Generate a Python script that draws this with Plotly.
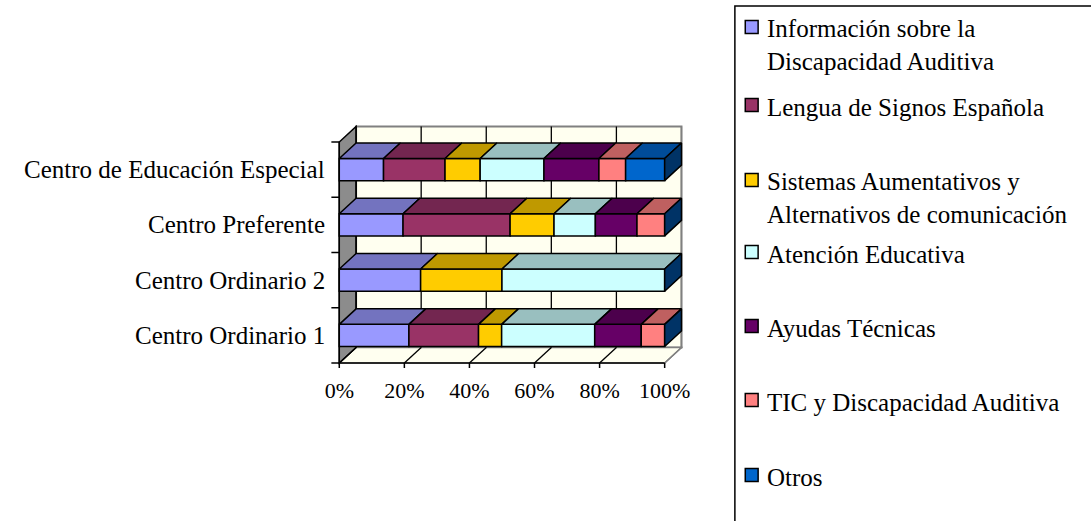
import numpy as np
import plotly.graph_objects as go

# ---------------- data ----------------
categories = ["Centro Ordinario 1", "Centro Ordinario 2", "Centro Preferente",
              "Centro de Educación Especial"]
series_names = ["Información sobre la<br>Discapacidad Auditiva",
                "Lengua de Signos Española",
                "Sistemas Aumentativos y<br>Alternativos de comunicación",
                "Atención Educativa",
                "Ayudas Técnicas",
                "TIC y Discapacidad Auditiva",
                "Otros"]
informacion = [21.4, 25.0, 19.6, 13.6]
lengua = [21.4, 0.0, 32.9, 18.9]
sistemas = [7.1, 25.0, 13.5, 10.8]
atencion = [28.6, 50.0, 12.7, 19.6]
ayudas = [14.3, 0.0, 12.8, 16.9]
tic = [7.2, 0.0, 8.5, 8.2]
otros = [0.0, 0.0, 0.0, 12.0]
tick_values = [0, 20, 40, 60, 80, 100]
tick_labels = ["0%", "20%", "40%", "60%", "80%", "100%"]

front_colors = ["#9999FF", "#993366", "#FFCC00", "#CCFFFF", "#660066", "#FF8080", "#0066CC"]
top_colors = ["#7373BF", "#732650", "#BF9900", "#99BFBF", "#4C004C", "#BF6060", "#004C99"]
side_color = "#003366"

# ---------------- geometry (layout constants) ----------------
W, H = 1091, 521
PX0, PXU = 338.0, 3.29      # pixel of 0 %, pixels per percent
PY0, PYU = 363.0, 55.25     # pixel of front floor line, pixels per category
DX = 17.0 / PXU             # depth offset (percent units)
DY = 15.5 / PYU             # depth offset (category units)
HALF = 0.2                  # half bar thickness
FONT = "Liberation Serif"
LEG_ROWS = [27, 105, 180, 252, 326, 400, 475]   # legend row centres (px)

x_lo = -10.0 / PXU
x_hi = 100 + DX + 2.0 / PXU
y_lo = -0.5 - 7.0 / PYU
y_hi = 3.5 + DY + 2.0 / PYU
dom_x = [(PX0 + x_lo * PXU) / W, (PX0 + x_hi * PXU) / W]
dom_y = [(H - (PY0 - (y_lo + 0.5) * PYU)) / H, (H - (PY0 - (y_hi + 0.5) * PYU)) / H]

data = np.array([informacion, lengua, sistemas, atencion, ayudas, tic, otros], dtype=float)
pct = data / data.sum(axis=0) * 100
right = np.cumsum(pct, axis=0)
left = right - pct
ypos = np.arange(len(categories), dtype=float)

fig = go.Figure()

# front faces
for s in range(len(series_names)):
    widths = [w if w > 0 else None for w in pct[s]]
    fig.add_trace(go.Bar(
        y=ypos, x=widths, base=left[s], orientation="h", width=2 * HALF,
        marker=dict(color=front_colors[s], line=dict(color="black", width=1.5)),
        showlegend=False, name=series_names[s].replace("<br>", " "),
    ))

# top faces
for s in range(len(series_names)):
    xs, ys = [], []
    for i in range(len(categories)):
        if pct[s, i] <= 0:
            continue
        l, r, yt = left[s, i], right[s, i], ypos[i] + HALF
        xs += [l, r, r + DX, l + DX, l, None]
        ys += [yt, yt, yt + DY, yt + DY, yt, None]
    fig.add_trace(go.Scatter(x=xs, y=ys, mode="lines", fill="toself",
                             fillcolor=top_colors[s],
                             line=dict(color="black", width=1.5),
                             showlegend=False, hoverinfo="skip"))

# right-end side faces
xs, ys = [], []
for i in range(len(categories)):
    r = right[-1, i]
    yb, yt = ypos[i] - HALF, ypos[i] + HALF
    xs += [r, r + DX, r + DX, r, r, None]
    ys += [yb, yb + DY, yt + DY, yt, yb, None]
fig.add_trace(go.Scatter(x=xs, y=ys, mode="lines", fill="toself", fillcolor=side_color,
                         line=dict(color="black", width=1.5), showlegend=False,
                         hoverinfo="skip"))

# axis ticks and front axis lines
bounds = np.arange(len(categories) + 1) - 0.5
tx, ty = [], []
for b in bounds:
    tx += [-8.0 / PXU, 0, None]
    ty += [b, b, None]
for t in tick_values:
    tx += [t, t, None]
    ty += [-0.5, -0.5 - 5.0 / PYU, None]
tx += [0, 0, None, 0, 100, None]
ty += [bounds[0], bounds[-1], None, -0.5, -0.5, None]
fig.add_trace(go.Scatter(x=tx, y=ty, mode="lines", line=dict(color="black", width=1.5),
                         showlegend=False, hoverinfo="skip"))

# walls, floor, gridlines
yb0, yb1 = bounds[0], bounds[-1]
shapes = []
shapes.append(dict(type="rect", xref="x", yref="y", x0=DX, x1=100 + DX,
                   y0=yb0 + DY, y1=yb1 + DY, fillcolor="#FFFFF0",
                   line=dict(color="#808080", width=2), layer="below"))
shapes.append(dict(type="path", xref="x", yref="y",
                   path=f"M 0,{yb0} L 100,{yb0} L {100 + DX},{yb0 + DY} L {DX},{yb0 + DY} Z",
                   fillcolor="#FFFFF0", line=dict(color="#808080", width=1.5), layer="below"))
shapes.append(dict(type="path", xref="x", yref="y",
                   path=f"M 0,{yb0} L {DX},{yb0 + DY} L {DX},{yb1 + DY} L 0,{yb1} Z",
                   fillcolor="#8C8C8C", line=dict(color="black", width=1.5), layer="below"))
for t in tick_values:
    shapes.append(dict(type="line", xref="x", yref="y", x0=t + DX, x1=t + DX,
                       y0=yb0 + DY, y1=yb1 + DY,
                       line=dict(color="black" if t < 100 else "#808080", width=1.3),
                       layer="below"))
    shapes.append(dict(type="line", xref="x", yref="y", x0=t, x1=t + DX,
                       y0=yb0, y1=yb0 + DY,
                       line=dict(color="black" if t < 100 else "#808080", width=1.3),
                       layer="below"))

# legend (drawn manually to keep Excel-like row spacing)
LEG_X, LEG_TOP = 738.0, 6.0
shapes.append(dict(type="rect", xref="paper", yref="paper", x0=LEG_X / W, x1=1.02,
                   y0=-0.02, y1=1 - LEG_TOP / H, line=dict(color="black", width=1.5),
                   fillcolor="rgba(0,0,0,0)"))
annotations = []
for s, name in enumerate(series_names):
    cy = LEG_ROWS[s]
    shapes.append(dict(type="rect", xref="paper", yref="paper",
                       x0=748.5 / W, x1=761.5 / W, y0=1 - (cy + 6.5) / H, y1=1 - (cy - 6.5) / H,
                       fillcolor=front_colors[s], line=dict(color="black", width=1.5)))
    nl = name.count("<br>")
    annotations.append(dict(xref="paper", yref="paper", x=768.0 / W,
                            y=1 - (cy + 2 + 16 * nl) / H, text=name, showarrow=False,
                            xanchor="left", yanchor="middle", align="left",
                            font=dict(family=FONT, size=25, color="black")))

for i, c in enumerate(categories):
    annotations.append(dict(xref="x", yref="y", x=0, y=ypos[i], text=c, showarrow=False,
                            xanchor="right", yanchor="middle", xshift=-12,
                            font=dict(family=FONT, size=25, color="black")))

fig.update_layout(
    width=W, height=H, margin=dict(l=0, r=0, t=0, b=0),
    paper_bgcolor="white", plot_bgcolor="rgba(0,0,0,0)",
    font=dict(family=FONT, color="black"),
    barmode="overlay", shapes=shapes, annotations=annotations,
    xaxis=dict(domain=dom_x, range=[x_lo, x_hi], tickvals=tick_values, ticktext=tick_labels,
               ticks="", showgrid=False, zeroline=False, showline=False,
               tickfont=dict(family=FONT, size=22, color="black"), ticklabelstandoff=5,
               fixedrange=True),
    yaxis=dict(domain=dom_y, range=[y_lo, y_hi], showticklabels=False, ticks="",
               showgrid=False, zeroline=False, showline=False, fixedrange=True),
    showlegend=False,
)

fig.write_html("out.html")
